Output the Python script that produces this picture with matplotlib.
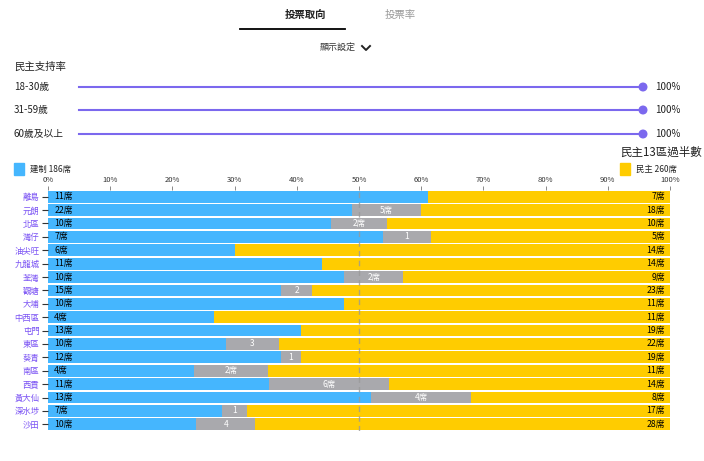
import numpy as np
import matplotlib
matplotlib.use("Agg")
import matplotlib.pyplot as plt
from matplotlib.patches import Rectangle, Circle

plt.rcParams['font.family'] = ['Noto Sans CJK TC', 'DejaVu Sans']

# data
districts = ['離島', '元朗', '北區', '灣仔', '油尖旺', '九龍城', '荃灣', '觀塘', '大埔',
             '中西區', '屯門', '東區', '葵青', '南區', '西貢', '黃大仙', '深水埗', '沙田']
pro_beijing = [11, 22, 10, 7, 6, 11, 10, 15, 10, 4, 13, 10, 12, 4, 11, 13, 7, 10]
swing = [0, 5, 2, 1, 0, 0, 2, 2, 0, 0, 0, 3, 1, 2, 6, 4, 1, 4]
swing_labels = ['', '5席', '2席', '1', '', '', '2席', '2', '', '', '', '3', '1', '2席', '6席', '4席', '1', '4']
democrat = [7, 18, 10, 5, 14, 14, 9, 23, 11, 11, 19, 22, 19, 11, 14, 8, 17, 28]
age_groups = ['18-30歲', '31-59歲', '60歲及以上']
support = [100, 100, 100]
pct_ticks = [0, 10, 20, 30, 40, 50, 60, 70, 80, 90, 100]

BLUE = '#45b6fe'
GREY = '#a9a9ad'
YELLOW = '#ffcc00'
PURPLE = '#7b68ee'
LABEL_PURPLE = '#7a52f4'

W, H = 704, 461
fig = plt.figure(figsize=(W / 100, H / 100), dpi=100)

# overlay in pixel coords for the UI parts
ui = fig.add_axes([0, 0, 1, 1])
ui.set_xlim(0, W)
ui.set_ylim(H, 0)
ui.axis('off')

ui.text(305, 15, '投票取向', ha='center', va='center', fontsize=7.5, color='#222222', fontweight='bold')
ui.text(400, 15, '投票率', ha='center', va='center', fontsize=7.5, color='#999999')
ui.plot([240, 345], [29.5, 29.5], color='black', lw=1.3)
ui.text(338, 48, '顯示設定', ha='center', va='center', fontsize=6.5, color='#333333')
ui.plot([362, 366, 370], [46, 50, 46], color='#222222', lw=1.4)
ui.text(14, 67, '民主支持率', ha='left', va='center', fontsize=7.5, color='#222222')

slider_y = [87, 110, 134]
x0, x1 = 79, 643
for lab, val, y in zip(age_groups, support, slider_y):
    ui.text(14, y, lab, ha='left', va='center', fontsize=7, color='#222222')
    xe = x0 + (x1 - x0) * val / 100
    ui.plot([x0, xe], [y, y], color=PURPLE, lw=1.5)
    ui.add_patch(Circle((xe, y), 3.8, color=PURPLE))
    ui.text(655, y, f'{val}%', ha='left', va='center', fontsize=7, color='#222222')

ui.text(620, 152, '民主13區過半數', ha='left', va='center', fontsize=8.3, color='#222222')
ui.add_patch(Rectangle((14, 163), 10, 12, color=BLUE))
ui.text(30, 169, f'建制 {sum(pro_beijing)}席', ha='left', va='center', fontsize=6, color='#222222')
ui.add_patch(Rectangle((620, 163), 10, 12, color=YELLOW))
ui.text(636, 169, f'民主 {sum(democrat)}席', ha='left', va='center', fontsize=6, color='#222222')

# bar chart
ax = fig.add_axes([48 / W, 1 - 431 / H, 622 / W, 241 / H])
pb = np.array(pro_beijing, float)
sw = np.array(swing, float)
dm = np.array(democrat, float)
tot = pb + sw + dm
y = np.arange(len(districts))
h = 0.88
ax.barh(y, pb / tot * 100, height=h, color=BLUE)
ax.barh(y, sw / tot * 100, left=pb / tot * 100, height=h, color=GREY)
ax.barh(y, dm / tot * 100, left=(pb + sw) / tot * 100, height=h, color=YELLOW)

for i in range(len(districts)):
    ax.text(1, i, f'{pro_beijing[i]}席', ha='left', va='center', fontsize=6.3, color='black')
    if swing[i]:
        c = (pb[i] + sw[i] / 2) / tot[i] * 100
        ax.text(c, i, swing_labels[i], ha='center', va='center', fontsize=6, color='white')
    ax.text(99.2, i, f'{democrat[i]}席', ha='right', va='center', fontsize=6.3, color='black')

ax.axvline(50, color='#999999', lw=1, ls=(0, (4, 3)), alpha=0.8)

ax.set_xlim(0, 100)
ax.set_ylim(len(districts) - 0.5, -0.5)
ax.set_yticks(y)
ax.set_yticklabels(districts, fontsize=6, color=LABEL_PURPLE)
ax.tick_params(axis='y', length=4, width=0.8, color='#333333', pad=2)
ax.xaxis.tick_top()
ax.set_xticks(pct_ticks)
ax.set_xticklabels([f'{t}%' for t in pct_ticks], fontsize=5.5, color='#333333')
ax.tick_params(axis='x', length=3, width=0.6, color='#777777', pad=1)
for s in ax.spines.values():
    s.set_visible(False)

fig.savefig('out.png', dpi=100)
